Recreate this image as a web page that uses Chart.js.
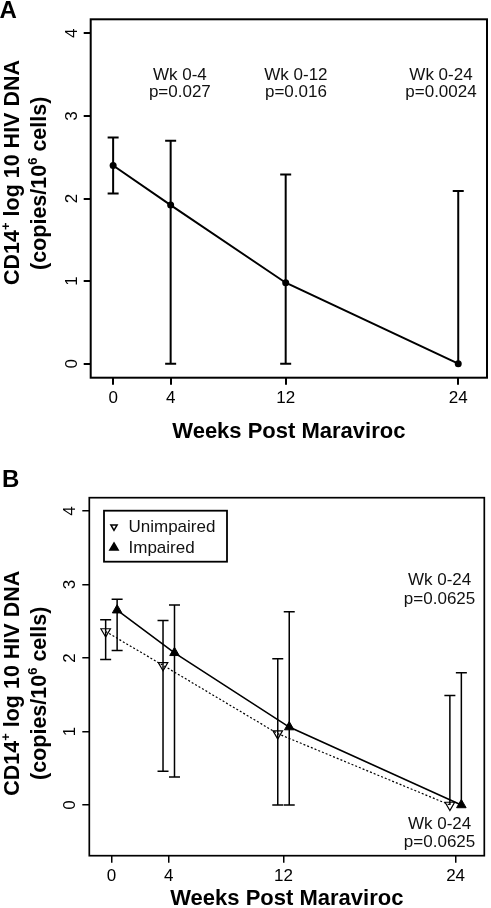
<!DOCTYPE html>
<html>
<head>
<meta charset="utf-8">
<script src="https://cdn.jsdelivr.net/npm/chart.js@4.4.1/dist/chart.umd.min.js"></script>
<style>
  html, body { margin: 0; padding: 0; background: #fff; overflow: hidden; }
  #wrap { position: relative; width: 491px; height: 908px; overflow: hidden; background: #fff; }
  canvas { position: absolute; left: 0; }
  #chartA { top: 0; }
  #chartB { top: 460px; }
</style>
</head>
<body>
<div id="wrap">
  <canvas id="chartA" width="491" height="460"></canvas>
  <canvas id="chartB" width="491" height="460"></canvas>
</div>
<script>
const weeks = [0, 4, 12, 24];
const weekTicks = [0, 4, 12, 24];
const logTicks = [0, 1, 2, 3, 4];

// panel A: all subjects, mean and range
const meanA = [2.40, 1.92, 0.98, 0];
const upperA = [2.74, 2.70, 2.29, 2.09];
const lowerA = [2.06, 0, 0, 0];

// panel B: by impairment
const seriesNames = ["Unimpaired", "Impaired"];
const meanUnimp = [2.36, 1.90, 0.97, 0];
const upperUnimp = [2.52, 2.51, 1.99, 1.49];
const lowerUnimp = [1.98, 0.46, 0, 0];
const meanImp = [2.65, 2.07, 1.06, 0];
const upperImp = [2.80, 2.72, 2.63, 1.80];
const lowerImp = [2.10, 0.38, 0, 0];

const notesA = [["Wk 0-4", "p=0.027"], ["Wk 0-12", "p=0.016"], ["Wk 0-24", "p=0.0024"]];
const notesB = [["Wk 0-24", "p=0.0625"], ["Wk 0-24", "p=0.0625"]];

const dodge = 0.4;
const family = '"Liberation Sans", Arial, Helvetica, sans-serif';
Chart.defaults.font.family = family;
Chart.defaults.color = "#000";

// error bars: mean -> upper and mean -> lower, skipped when zero length
const errorBars = {
  id: "errorBars",
  beforeDatasetsDraw(chart) {
    const { ctx } = chart;
    const x = chart.scales.x, y = chart.scales.y;
    chart.data.datasets.forEach(ds => {
      if (!ds.upper) return;
      ctx.save();
      ctx.strokeStyle = "#000";
      ctx.lineWidth = ds.errWidth;
      ds.data.forEach((p, j) => {
        const px = x.getPixelForValue(p.x);
        const py = y.getPixelForValue(p.y);
        [ds.upper[j], ds.lower[j]].forEach(v => {
          if (v === p.y) return;
          const ey = y.getPixelForValue(v);
          ctx.beginPath();
          ctx.moveTo(px, py);
          ctx.lineTo(px, ey);
          ctx.moveTo(px - 5.5, ey);
          ctx.lineTo(px + 5.5, ey);
          ctx.stroke();
        });
      });
      ctx.restore();
    });
  }
};

const frame = {
  id: "frame",
  afterDraw(chart, args, opts) {
    const { ctx, chartArea: a } = chart;
    ctx.save();
    ctx.strokeStyle = "#000";
    ctx.lineWidth = opts.width;
    ctx.strokeRect(a.left, a.top, a.right - a.left, a.bottom - a.top);
    ctx.restore();
  }
};

function drawRich(ctx, segs, size, baseX, centerY) {
  ctx.save();
  ctx.translate(baseX, centerY);
  ctx.rotate(-Math.PI / 2);
  const main = `bold ${size}px ${family}`;
  const small = `bold ${Math.round(size * 0.6)}px ${family}`;
  let total = 0;
  const widths = segs.map(s => {
    ctx.font = s.sup ? small : main;
    const w = ctx.measureText(s.t).width;
    total += w;
    return w;
  });
  let x = -total / 2;
  ctx.fillStyle = "#000";
  ctx.textAlign = "left";
  ctx.textBaseline = "alphabetic";
  segs.forEach((s, i) => {
    ctx.font = s.sup ? small : main;
    ctx.fillText(s.t, x, s.sup ? -size * 0.4 : 0);
    x += widths[i];
  });
  ctx.restore();
}

const panelText = {
  id: "panelText",
  afterDraw(chart, args, opts) {
    const { ctx } = chart;
    ctx.save();
    ctx.fillStyle = "#000";
    ctx.font = `bold 24px ${family}`;
    ctx.textBaseline = "alphabetic";
    ctx.fillText(opts.letter, opts.letterX, opts.letterY);
    ctx.restore();
    drawRich(ctx, [{ t: "CD14" }, { t: "+", sup: true }, { t: " log 10 HIV DNA" }], 21.5, 19, opts.line1Y);
    drawRich(ctx, [{ t: "(copies/10" }, { t: "6", sup: true }, { t: " cells)" }], 21.5, 45.5, opts.line2Y);
  }
};

const notes = {
  id: "notes",
  afterDraw(chart, args, opts) {
    const { ctx } = chart;
    const x = chart.scales.x, y = chart.scales.y;
    ctx.save();
    ctx.fillStyle = "#111";
    ctx.font = `17px ${family}`;
    ctx.textAlign = "center";
    ctx.textBaseline = "alphabetic";
    opts.items.forEach((lines, i) => {
      const pos = opts.at[i];
      const px = x.getPixelForValue(pos.x);
      const py = y.getPixelForValue(pos.y);
      lines.forEach((t, k) => ctx.fillText(t, px, py + k * opts.gap));
    });
    ctx.restore();
  }
};

const boxLegend = {
  id: "boxLegend",
  afterDraw(chart, args, opts) {
    if (!opts.show) return;
    const { ctx, chartArea: a } = chart;
    const left = a.left + 14.7, top = a.top + 13;
    ctx.save();
    ctx.strokeStyle = "#000";
    ctx.lineWidth = 1.8;
    ctx.strokeRect(left, top, 123, 51);
    ctx.font = `17px ${family}`;
    ctx.textBaseline = "middle";
    ctx.textAlign = "left";
    chart.data.datasets.forEach((ds, i) => {
      const cy = top + 16 + i * 21;
      ctx.fillStyle = ds.pointBackgroundColor;
      ctx.strokeStyle = "#000";
      ctx.lineWidth = 1.5;
      Chart.helpers.drawPoint(ctx, {
        pointStyle: ds.pointStyle,
        rotation: ds.pointRotation,
        radius: opts.radius[i],
        borderWidth: 1.5
      }, left + 10, cy);
      ctx.fillStyle = "#111";
      ctx.fillText(ds.label, left + 24.5, cy + 1);
    });
    ctx.restore();
  }
};

function buildOptions(o) {
  const grid = { drawOnChartArea: false, color: "#000", lineWidth: o.tickWidth, tickLength: 7 };
  return {
    responsive: false,
    animation: false,
    events: [],
    layout: { padding: { left: 0, right: o.padRight, top: o.padTop, bottom: 0 } },
    scales: {
      x: {
        type: "linear",
        min: o.xMin,
        max: o.xMax,
        afterBuildTicks: s => { s.ticks = weekTicks.map(v => ({ value: v })); },
        afterFit: s => { s.height = o.xAxisHeight; },
        grid: grid,
        border: { display: false },
        ticks: { color: "#000", font: { size: 17 }, padding: 3.5, autoSkip: false, maxRotation: 0, callback: v => String(v) },
        title: {
          display: true,
          text: "Weeks Post Maraviroc",
          color: "#000",
          font: { size: 22, weight: "bold" },
          padding: { top: 0, bottom: o.titlePad }
        }
      },
      y: {
        type: "linear",
        min: o.yMin,
        max: o.yMax,
        afterBuildTicks: s => { s.ticks = logTicks.map(v => ({ value: v })); },
        afterFit: s => { s.width = o.yAxisWidth; },
        grid: grid,
        border: { display: false },
        ticks: {
          color: "#000", font: { size: 17 }, padding: 7, autoSkip: false,
          minRotation: 90, maxRotation: 90, crossAlign: "center", callback: v => String(v)
        }
      }
    },
    plugins: {
      legend: { display: false },
      tooltip: { enabled: false },
      frame: { width: o.frameWidth },
      panelText: o.panelText,
      notes: o.notes,
      boxLegend: o.boxLegend
    }
  };
}

new Chart(document.getElementById("chartA"), {
  type: "scatter",
  data: {
    datasets: [{
      label: "All",
      data: weeks.map((w, i) => ({ x: w, y: meanA[i] })),
      upper: upperA,
      lower: lowerA,
      errWidth: 2,
      showLine: true,
      borderColor: "#000",
      borderWidth: 2,
      pointStyle: "circle",
      pointRadius: 3.5,
      pointBackgroundColor: "#000",
      pointBorderColor: "#000",
      pointBorderWidth: 0
    }]
  },
  options: buildOptions({
    padTop: 19.3, padRight: 1, yAxisWidth: 90.7, xAxisHeight: 82.3,
    xMin: -1.56, xMax: 26, yMin: -0.17, yMax: 4.17, titlePad: 15.3,
    tickWidth: 2, frameWidth: 2,
    panelText: { letter: "A", letterX: -0.5, letterY: 18, line1Y: 172.5, line2Y: 183.3 },
    notes: { items: notesA, at: [{ x: 4.64, y: 3.435 }, { x: 12.71, y: 3.435 }, { x: 22.8, y: 3.435 }], gap: 17.3 },
    boxLegend: { show: false }
  }),
  plugins: [errorBars, frame, panelText, notes, boxLegend]
});

new Chart(document.getElementById("chartB"), {
  type: "scatter",
  data: {
    datasets: [{
      label: seriesNames[0],
      data: weeks.map((w, i) => ({ x: w - dodge, y: meanUnimp[i] })),
      upper: upperUnimp,
      lower: lowerUnimp,
      errWidth: 1.5,
      showLine: true,
      borderColor: "#000",
      borderWidth: 1.2,
      borderDash: [2, 2],
      pointStyle: "triangle",
      pointRotation: 180,
      pointRadius: 5.5,
      pointBackgroundColor: "rgba(255,255,255,0)",
      pointBorderColor: "#000",
      pointBorderWidth: 1.2
    }, {
      label: seriesNames[1],
      data: weeks.map((w, i) => ({ x: w + dodge, y: meanImp[i] })),
      upper: upperImp,
      lower: lowerImp,
      errWidth: 1.5,
      showLine: true,
      borderColor: "#000",
      borderWidth: 1.6,
      pointStyle: "triangle",
      pointRotation: 0,
      pointRadius: 5.5,
      pointBackgroundColor: "#000",
      pointBorderColor: "#000",
      pointBorderWidth: 1
    }]
  },
  options: buildOptions({
    padTop: 37.7, padRight: 2, yAxisWidth: 89.3, xAxisHeight: 64.3,
    xMin: -1.54, xMax: 26, yMin: -0.69, yMax: 4.18, titlePad: 8.1,
    tickWidth: 1.5, frameWidth: 1.7,
    panelText: { letter: "B", letterX: 2, letterY: 26.5, line1Y: 223.3, line2Y: 233.3 },
    notes: { items: notesB, at: [{ x: 22.88, y: 2.99 }, { x: 22.88, y: -0.32 }], gap: 18.6 },
    boxLegend: { show: true, radius: [3.6, 4.8] }
  }),
  plugins: [errorBars, frame, panelText, notes, boxLegend]
});
</script>
</body>
</html>
